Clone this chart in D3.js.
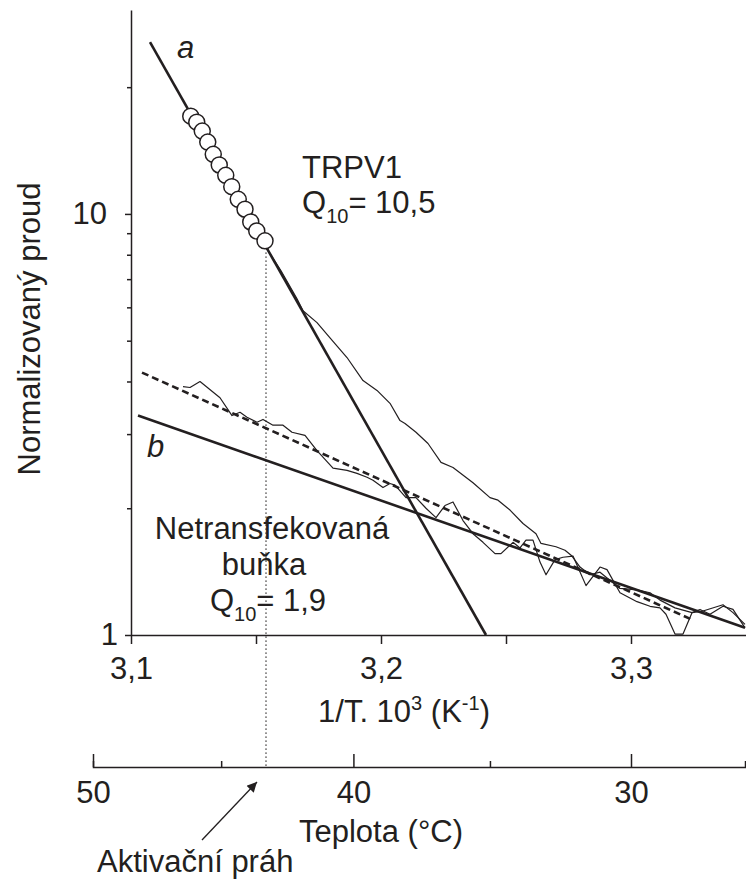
<!DOCTYPE html>
<html>
<head>
<meta charset="utf-8">
<title>TRPV1 - Q10</title>
<style>
body { margin: 0; background: #fff; }
svg { display: block; font-family: "Liberation Sans", Arial, sans-serif; }
.axis path, .axis line { stroke: #231f20; stroke-width: 1.5; fill: none; }
.axis text { font-family: "Liberation Sans", Arial, sans-serif; font-size: 31px; fill: #231f20; }
.lbl { font-size: 31px; fill: #231f20; }
.fit { fill: none; stroke: #231f20; stroke-width: 2.6; }
.trace { fill: none; stroke: #231f20; stroke-width: 1.2; stroke-linejoin: round; }
</style>
</head>
<body>
<script src="https://d3js.org/d3.v7.min.js"></script>
<script>

// axis ticks
const xTicks = [3.1, 3.15, 3.2, 3.25, 3.3];
const xTickLabels = ["3,1", "", "3,2", "", "3,3"];
const yMajor = [1, 10];
const yMinor = [2, 3, 4, 5, 6, 7, 8, 9, 20];
const tempTicks = [50, 45, 40, 35, 30];
const tempLabels = ["50", "", "40", "", "30"];

// TRPV1 points (circles), 1/T.10^3 vs normalized current
const circX = [3.1239, 3.1263, 3.1285, 3.1307, 3.1329, 3.1353, 3.1379, 3.1403, 3.1429, 3.1456, 3.1479, 3.1503, 3.1536];
const circY = [17.07, 16.52, 15.73, 14.81, 13.85, 13.07, 12.35, 11.61, 10.83, 10.26, 9.57, 9.11, 8.63];

// TRPV1 recorded trace
const trpvX = [3.1536, 3.1600, 3.1664, 3.1688, 3.1744, 3.1796, 3.1864, 3.1928, 3.1984, 3.2036, 3.2076, 3.2096,
  3.2140, 3.2188, 3.2240, 3.2288, 3.2368, 3.2436, 3.2468, 3.2516, 3.2568, 3.2620, 3.2640, 3.2700, 3.2736,
  3.2764, 3.2796, 3.2836, 3.2876, 3.2956, 3.3024, 3.3076, 3.3116, 3.3176, 3.3244, 3.3288, 3.3368, 3.3408, 3.3456];
const trpvY = [8.40, 7.33, 6.29, 5.89, 5.52, 5.08, 4.56, 4.02, 3.81, 3.55, 3.23, 3.18,
  3.03, 2.85, 2.57, 2.50, 2.30, 2.12, 2.09, 1.98, 1.84, 1.74, 1.65, 1.62, 1.59,
  1.54, 1.45, 1.39, 1.41, 1.29, 1.28, 1.26, 1.21, 1.16, 1.13, 1.14, 1.18, 1.13, 1.06];

// non-transfected cell trace
const ctrlX = [3.1208, 3.1236, 3.1276, 3.1356, 3.1404, 3.1436, 3.1464, 3.1504, 3.1528, 3.1568, 3.1608, 3.1644,
  3.1696, 3.1744, 3.1808, 3.1864, 3.1904, 3.1944, 3.1968, 3.2008, 3.2036, 3.2056, 3.2100, 3.2140, 3.2180,
  3.2220, 3.2256, 3.2288, 3.2328, 3.2368, 3.2408, 3.2456, 3.2480, 3.2528, 3.2556, 3.2580, 3.2608, 3.2636,
  3.2660, 3.2696, 3.2728, 3.2768, 3.2820, 3.2876, 3.2904, 3.2956, 3.3024, 3.3076, 3.3116, 3.3140, 3.3176,
  3.3208, 3.3244, 3.3276, 3.3316, 3.3368, 3.3408, 3.3456];
const ctrlY = [3.89, 3.87, 4.00, 3.66, 3.32, 3.38, 3.29, 3.20, 3.25, 3.15, 3.15, 3.03,
  2.98, 2.74, 2.49, 2.46, 2.42, 2.37, 2.33, 2.24, 2.29, 2.27, 2.12, 2.12, 2.00,
  1.90, 2.03, 2.07, 1.87, 1.74, 1.66, 1.56, 1.56, 1.66, 1.61, 1.68, 1.68, 1.49,
  1.39, 1.51, 1.53, 1.54, 1.31, 1.45, 1.43, 1.26, 1.20, 1.17, 1.16, 1.12, 1.005,
  1.005, 1.13, 1.15, 1.12, 1.17, 1.15, 1.04];

// regression lines
const fitAX = [3.1076, 3.242];
const fitAY = [25.6, 1.0];
const fitBX = [3.1028, 3.3456];
const fitBY = [3.32, 1.04];
const fitCX = [3.1044, 3.3248];
const fitCY = [4.2, 1.085];

// activation threshold
const thresholdX = 3.154;
const thresholdY = 8.1;

const width = 746, height = 879;

const svg = d3.select("body").append("svg")
    .attr("width", width)
    .attr("height", height);

// scales
const x = d3.scaleLinear().domain([3.1, 3.346]).range([131, 746]);
const y = d3.scaleLog().domain([1, 30.5]).range([635, 10]);

const invT = c => 1000 / (c + 273.15);
const t = d3.scaleLinear().domain([invT(50), invT(30)]).range([93, 631]);
t.domain([invT(50), t.invert(745)]).range([93, 745]);
const tempY = 767;

const line = d3.line().x(d => x(d[0])).y(d => y(d[1]));
const zip = (a, b) => a.map((v, i) => [v, b[i]]);

// dotted threshold line
svg.append("line")
    .attr("x1", x(thresholdX)).attr("x2", x(thresholdX))
    .attr("y1", y(thresholdY)).attr("y2", tempY)
    .attr("stroke", "#231f20")
    .attr("stroke-width", 1.3)
    .attr("stroke-dasharray", "1.3,2.7");

// traces
svg.append("path").attr("class", "trace").attr("d", line(zip(trpvX, trpvY)));
svg.append("path").attr("class", "trace").attr("d", line(zip(ctrlX, ctrlY)));

// fits
svg.append("path").attr("class", "fit").attr("d", line(zip(fitAX, fitAY)));
svg.append("path").attr("class", "fit").attr("d", line(zip(fitBX, fitBY)));
svg.append("path").attr("class", "fit")
    .attr("stroke-dasharray", "7,4")
    .attr("d", line(zip(fitCX, fitCY)));

// circles
svg.selectAll(".pt")
    .data(zip(circX, circY))
  .enter().append("circle")
    .attr("class", "pt")
    .attr("cx", d => x(d[0]))
    .attr("cy", d => y(d[1]))
    .attr("r", 8)
    .attr("fill", "#fff")
    .attr("stroke", "#231f20")
    .attr("stroke-width", 1.5);

// x axis
svg.append("g")
    .attr("class", "axis")
    .attr("transform", "translate(0,635)")
    .call(d3.axisBottom(x).tickValues(xTicks).tickSize(9).tickSizeOuter(0).tickPadding(13)
      .tickFormat((d, i) => xTickLabels[i]));

// y axis
const yAx = svg.append("g")
    .attr("class", "axis")
    .attr("transform", "translate(131,0)")
    .call(d3.axisLeft(y).tickValues(yMajor).tickSize(6).tickSizeOuter(0).tickPadding(18)
      .tickFormat(d3.format("d")));
yAx.selectAll(".tick text").filter(d => d === 1).attr("dx", 11);

svg.append("g")
    .attr("class", "axis")
    .attr("transform", "translate(131,0)")
    .call(d3.axisLeft(y).tickValues(yMinor).tickSize(4).tickFormat(""))
    .select(".domain").remove();

// temperature axis
const tAx = svg.append("g")
    .attr("class", "axis")
    .attr("transform", "translate(0," + tempY + ")")
    .call(d3.axisBottom(t).tickValues(tempTicks.map(invT)).tickSize(-13).tickSizeOuter(-6).tickPadding(14)
      .tickFormat((d, i) => tempLabels[i]));
tAx.selectAll(".tick line").filter((d, i) => tempLabels[i] === "").attr("y2", -6);

// axis titles
svg.append("text")
    .attr("class", "lbl")
    .attr("transform", "translate(40,329) rotate(-90)")
    .attr("text-anchor", "middle")
    .text("Normalizovaný proud");

const xt = svg.append("text")
    .attr("class", "lbl")
    .attr("x", 404).attr("y", 722)
    .attr("text-anchor", "middle");
xt.append("tspan").text("1/T. 10");
xt.append("tspan").attr("dy", -12).style("font-size", "20px").text("3");
xt.append("tspan").attr("dy", 12).text(" (K");
xt.append("tspan").attr("dy", -12).style("font-size", "20px").text("-1");
xt.append("tspan").attr("dy", 12).text(")");

svg.append("text")
    .attr("class", "lbl")
    .attr("x", 381).attr("y", 842)
    .attr("text-anchor", "middle")
    .text("Teplota (°C)");

// annotations
svg.append("text").attr("class", "lbl").attr("x", 177).attr("y", 58)
    .style("font-style", "italic").text("a");
svg.append("text").attr("class", "lbl").attr("x", 147).attr("y", 457)
    .style("font-style", "italic").text("b");

// TRPV1 label block
svg.append("text").attr("class", "lbl").attr("x", 302).attr("y", 178).text("TRPV1");
const q1 = svg.append("text").attr("class", "lbl").attr("x", 302).attr("y", 213);
q1.append("tspan").text("Q");
q1.append("tspan").attr("dy", 10).style("font-size", "20px").text("10");
q1.append("tspan").attr("dy", -10).text("= 10,5");

// non-transfected cell label block
const q2 = svg.append("text").attr("class", "lbl").attr("y", 539)
    .attr("text-anchor", "middle");
q2.append("tspan").attr("x", 272).text("Netransfekovaná");
q2.append("tspan").attr("x", 264).attr("dy", 36).text("buňka");
q2.append("tspan").attr("x", 268).attr("dy", 36).text("Q");
q2.append("tspan").attr("dy", 10).style("font-size", "20px").text("10");
q2.append("tspan").attr("dy", -10).text("= 1,9");

// arrow to activation threshold
svg.append("defs").append("marker")
    .attr("id", "head")
    .attr("viewBox", "0 0 10 10")
    .attr("refX", 10).attr("refY", 5)
    .attr("markerWidth", 12).attr("markerHeight", 10)
    .attr("markerUnits", "userSpaceOnUse")
    .attr("orient", "auto")
  .append("path")
    .attr("d", "M0,0L10,5L0,10Z")
    .attr("fill", "#231f20");

svg.append("line")
    .attr("x1", 202).attr("y1", 840)
    .attr("x2", x(thresholdX) - 9).attr("y2", 782)
    .attr("stroke", "#231f20")
    .attr("stroke-width", 1.3)
    .attr("marker-end", "url(#head)");

svg.append("text").attr("class", "lbl").attr("x", 97).attr("y", 872).text("Aktivační práh");

</script>
</body>
</html>
